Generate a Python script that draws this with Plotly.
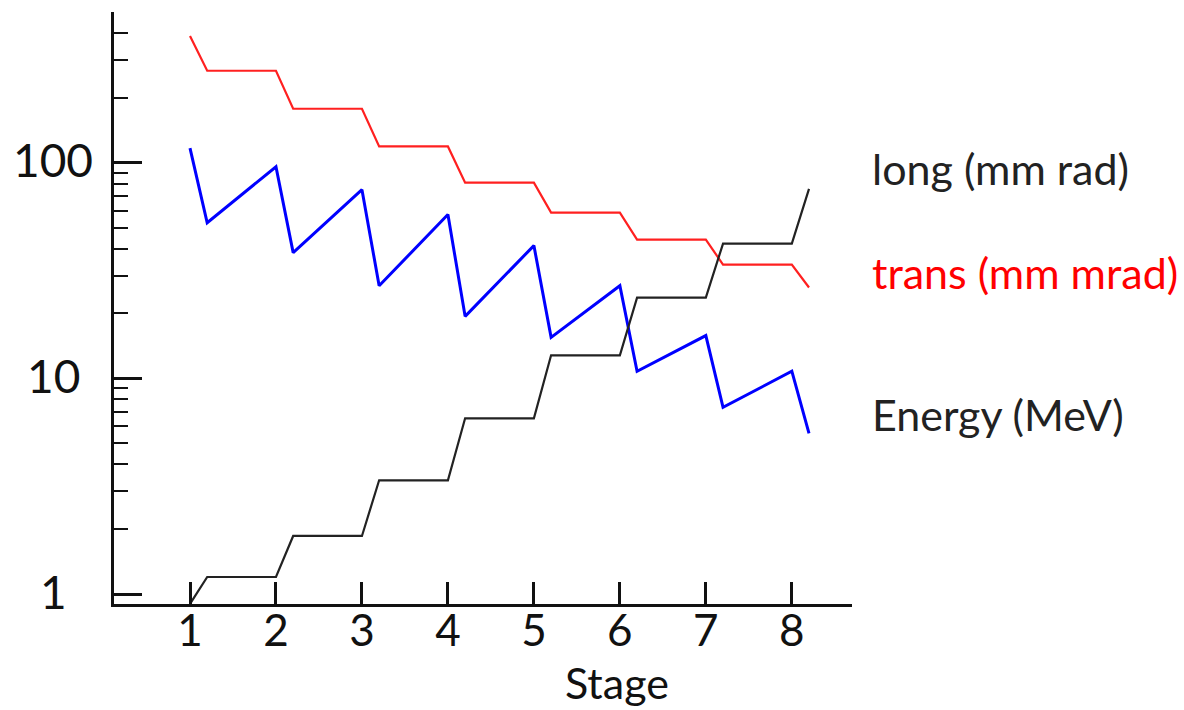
import math
import plotly.graph_objects as go

# ---- data ----
stages = [1, 2, 3, 4, 5, 6, 7, 8]
x_pts = [1, 1.2, 2, 2.2, 3, 3.2, 4, 4.2, 5, 5.2, 6, 6.2, 7, 7.2, 8, 8.2]

energy_mev = [0.9, 1.2, 1.2, 1.86, 1.86, 3.37, 3.37, 6.53, 6.53, 12.8, 12.8, 23.7, 23.7, 42.2, 42.2, 75.7]
trans_mm_mrad = [387, 267, 267, 178, 178, 119, 119, 80.8, 80.8, 58.7, 58.7, 44.0, 44.0, 33.7, 33.7, 26.4]
long_mm_rad = [117, 52.7, 95.8, 38.3, 75.0, 26.9, 57.5, 19.4, 41.3, 15.5, 26.9, 10.8, 15.8, 7.34, 10.8, 5.56]

y_major = [1, 10, 100]
y_major_text = ["1", "10", "100"]
y_minor = [2, 3, 4, 5, 6, 7, 8, 9, 20, 30, 40, 50, 60, 70, 80, 90, 200, 300, 400, 500]

labels = ["long (mm rad)", "trans (mm mrad)", "Energy (MeV)"]
label_colors = ["#222222", "#ff0000", "#222222"]
label_y = [93.8, 31.0, 6.8]

FONT = "Lato"
TICK_SIZE = 44

fig = go.Figure()
fig.add_trace(go.Scatter(x=x_pts, y=trans_mm_mrad, mode="lines",
                         line=dict(color="#ff2020", width=2.2), showlegend=False))
fig.add_trace(go.Scatter(x=x_pts, y=long_mm_rad, mode="lines",
                         line=dict(color="#0000ff", width=3), showlegend=False))
fig.add_trace(go.Scatter(x=x_pts, y=energy_mev, mode="lines",
                         line=dict(color="#222222", width=2.2), showlegend=False))

# series labels at the right
for t, c, yv in zip(labels, label_colors, label_y):
    fig.add_annotation(x=0.0, xref="paper", xanchor="left", xshift=756,
                       y=math.log10(yv), yref="y", yanchor="middle",
                       text=t, showarrow=False,
                       font=dict(family=FONT, size=43, color=c))

# y tick labels (centred, as in the reference)
for v, t in zip(y_major, y_major_text):
    fig.add_annotation(x=0.0, xref="paper", xanchor="center", xshift=-61,
                       y=math.log10(v), yref="y", yanchor="middle", yshift=3,
                       text=t, showarrow=False,
                       font=dict(family=FONT, size=46, color="#111111"))

fig.add_annotation(x=5.97, xref="x", y=-0.1334, yref="paper", yanchor="middle",
                   yshift=0, text="Stage", showarrow=False, borderpad=0,
                   font=dict(family=FONT, size=43, color="#111111"))

fig.update_layout(
    width=1184, height=710,
    margin=dict(l=114, r=332, t=12, b=106, autoexpand=False),
    paper_bgcolor="white", plot_bgcolor="white",
    font=dict(family=FONT, color="#111111"),
    xaxis=dict(range=[0.116, 8.7], tickvals=stages, ticktext=[str(s) for s in stages],
               ticks="inside", ticklen=22, tickwidth=3, tickcolor="#111111",
               showline=True, linecolor="#111111", linewidth=3,
               showgrid=False, zeroline=False, automargin=False,
               tickfont=dict(family=FONT, size=TICK_SIZE, color="#111111"),
               ticklabelstandoff=-14),
    yaxis=dict(type="log", range=[-0.046, 2.699],
               tickvals=y_major, showticklabels=False,
               ticks="inside", ticklen=28, tickwidth=3, tickcolor="#111111",
               showline=True, linecolor="#111111", linewidth=3,
               showgrid=False, zeroline=False, automargin=False,
               minor=dict(tickvals=y_minor, ticks="inside", ticklen=14,
                          tickwidth=2, tickcolor="#111111", showgrid=False)),
)

fig.write_html("out.html")
